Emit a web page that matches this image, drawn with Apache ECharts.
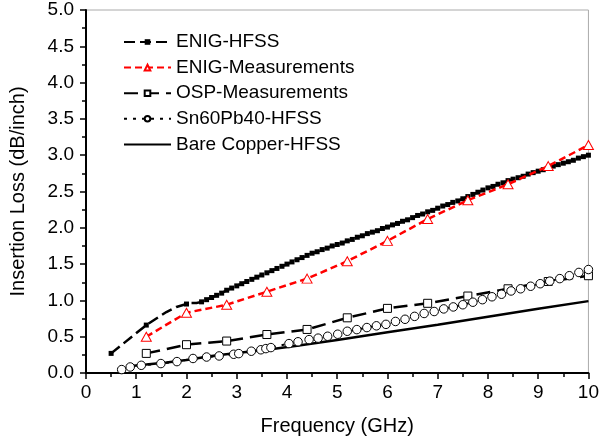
<!DOCTYPE html>
<html>
<head>
<meta charset="utf-8">
<script src="https://cdn.jsdelivr.net/npm/echarts@6/dist/echarts.min.js"></script>
<style>
html,body{margin:0;padding:0;background:#fff;}
#chart{width:602px;height:442px;}
</style>
</head>
<body>
<div id="chart"></div>
<script>
// ---- Data ----
var xTicks = [0,1,2,3,4,5,6,7,8,9,10];
var yTicks = ['0.0','0.5','1.0','1.5','2.0','2.5','3.0','3.5','4.0','4.5','5.0'];
var seriesNames = ['ENIG-HFSS','ENIG-Measurements','OSP-Measurements','Sn60Pb40-HFSS','Bare Copper-HFSS'];

// ENIG-HFSS
var enigHfssFreq = [0.5,1.2,1.6,1.8,2.0,2.1,2.2,
  2.3,2.4,2.5,2.6,2.7,2.8,2.9,3.0,3.1,3.2,3.3,3.4,3.5,3.6,3.7,3.8,3.9,4.0,
  4.1,4.2,4.3,4.4,4.5,4.6,4.7,4.8,4.9,5.0,5.1,5.2,5.3,5.4,5.5,5.6,5.7,5.8,5.9,6.0,
  6.1,6.2,6.3,6.4,6.5,6.6,6.7,6.8,6.9,7.0,7.1,7.2,7.3,7.4,7.5,7.6,7.7,7.8,7.9,8.0,
  8.1,8.2,8.3,8.4,8.5,8.6,8.7,8.8,8.9,9.0,9.1,9.2,9.3,9.4,9.5,9.6,9.7,9.8,9.9,10.0];
var enigHfssLoss = [0.27,0.66,0.84,0.91,0.95,0.965,0.965,
  0.98,1.01,1.04,1.07,1.10,1.14,1.17,1.20,1.23,1.26,1.29,1.32,1.35,1.38,1.41,1.44,1.47,1.50,
  1.53,1.56,1.59,1.62,1.65,1.67,1.70,1.72,1.75,1.77,1.79,1.82,1.84,1.87,1.89,1.92,1.94,1.96,1.99,2.01,
  2.04,2.06,2.09,2.11,2.14,2.17,2.19,2.22,2.24,2.27,2.30,2.32,2.35,2.37,2.40,2.43,2.46,2.49,2.52,2.55,
  2.57,2.60,2.62,2.65,2.67,2.69,2.71,2.74,2.76,2.78,2.80,2.82,2.85,2.87,2.89,2.91,2.93,2.96,2.98,3.00];
var enigHfssUnmarked = [1.6,1.8,2.1,2.2];

// ENIG-Measurements
var enigMeasFreq = [1.2,2.0,2.8,3.6,4.4,5.2,6.0,6.8,7.6,8.4,9.2,10.0];
var enigMeasLoss = [0.50,0.83,0.94,1.12,1.30,1.54,1.82,2.12,2.38,2.60,2.85,3.14];

// OSP-Measurements
var ospFreq = [1.2,2.0,2.8,3.6,4.4,5.2,6.0,6.8,7.6,8.4,9.2,10.0];
var ospLoss = [0.27,0.39,0.44,0.53,0.60,0.76,0.89,0.96,1.06,1.16,1.26,1.34];

// Sn60Pb40-HFSS
var snpbFreq = [0.71,0.88,1.10,1.49,1.81,2.13,2.40,2.65,2.94,3.04,3.29,3.48,3.58,3.68,4.04,4.22,
  4.44,4.62,4.81,5.01,5.20,5.39,5.59,5.78,5.97,6.16,6.35,6.54,6.73,6.93,7.12,7.31,7.50,7.70,
  7.89,8.08,8.27,8.46,8.65,8.85,9.04,9.23,9.43,9.62,9.81,10.0];
var snpbLoss = [0.047,0.083,0.106,0.13,0.157,0.20,0.22,0.235,0.258,0.267,0.30,0.32,0.336,0.35,0.405,0.43,
  0.46,0.48,0.506,0.534,0.575,0.598,0.626,0.65,0.67,0.71,0.74,0.78,0.82,0.847,0.883,0.91,0.94,0.975,
  1.01,1.05,1.085,1.13,1.16,1.195,1.23,1.265,1.30,1.34,1.385,1.425];

// Bare Copper-HFSS
var bareFreq = [0.9,1.2,1.6,2.0,2.5,3.0,3.6,4.2,5.0,6.0,7.0,8.0,9.0,10.0];
var bareLoss = [0.095,0.116,0.145,0.18,0.235,0.275,0.32,0.375,0.455,0.56,0.665,0.775,0.885,0.99];

function pairs(f, v){ return f.map(function(x,i){ return [x, v[i]]; }); }

var enigHfssData = enigHfssFreq.map(function(x,i){
  var item = {value:[x, enigHfssLoss[i]]};
  if (enigHfssUnmarked.indexOf(x) >= 0) item.symbol = 'none';
  return item;
});

var FONT = 'Arial, "Liberation Sans", Helvetica, sans-serif';

var chart = echarts.init(document.getElementById('chart'), null, {renderer:'canvas'});
chart.setOption({
  animation: false,
  backgroundColor: '#fff',
  grid: {left:86, right:11, top:10, bottom:69, show:true, borderColor:'#aaaaaa', borderWidth:1, containLabel:false},
  legend: {
    orient:'vertical', left:118, top:26,
    itemWidth:47, itemHeight:7, itemGap:3.6,
    data: [
      {name: seriesNames[0]},
      {name: seriesNames[1]},
      {name: seriesNames[2]},
      {name: seriesNames[3]},
      {name: seriesNames[4], itemStyle:{opacity:0}}
    ],
    textStyle:{fontFamily:FONT, fontSize:19, color:'#000', lineHeight:22}
  },
  xAxis: {
    type:'value', min:0, max:10, interval:1,
    name:'Frequency (GHz)', nameLocation:'middle', nameGap:43,
    nameTextStyle:{fontFamily:FONT, fontSize:20, color:'#000'},
    axisLine:{show:true, onZero:false, lineStyle:{color:'#000', width:2}},
    axisTick:{show:true, inside:false, length:6, lineStyle:{color:'#000', width:1.5}},
    minorTick:{show:true, splitNumber:2, length:4, lineStyle:{color:'#000', width:1.5}},
    splitLine:{show:false},
    axisLabel:{fontFamily:FONT, fontSize:19, color:'#000', margin:10,
      formatter:function(v){ var i = xTicks.indexOf(v); return i>=0 ? String(xTicks[i]) : ''; }}
  },
  yAxis: {
    type:'value', min:0, max:5, interval:0.5,
    name:'Insertion Loss (dB/inch)', nameLocation:'middle', nameGap:58, nameRotate:90,
    nameTextStyle:{fontFamily:FONT, fontSize:20, color:'#000'},
    axisLine:{show:true, onZero:false, lineStyle:{color:'#000', width:2}},
    axisTick:{show:true, inside:false, length:6, lineStyle:{color:'#000', width:1.5}},
    minorTick:{show:true, splitNumber:2, length:4, lineStyle:{color:'#000', width:1.5}},
    splitLine:{show:false},
    axisLabel:{fontFamily:FONT, fontSize:19, color:'#000', margin:12,
      formatter:function(v){ var i = Math.round(v/0.5); return yTicks[i] || ''; }}
  },
  series: [
    {
      name: seriesNames[0], type:'line', data: enigHfssData,
      symbol:'rect', symbolSize:5, showAllSymbol:true,
      lineStyle:{color:'#000', width:2.5, type:[11,5]},
      itemStyle:{color:'#000', borderColor:'#000', borderWidth:0},
      z:3
    },
    {
      name: seriesNames[1], type:'line', data: pairs(enigMeasFreq, enigMeasLoss),
      symbol:'triangle', symbolSize:[10,9], showAllSymbol:true,
      lineStyle:{color:'#ff0000', width:2.5, type:[7,4]},
      itemStyle:{color:'#fff', borderColor:'#ff0000', borderWidth:1},
      z:4
    },
    {
      name: seriesNames[2], type:'line', data: pairs(ospFreq, ospLoss),
      symbol:'rect', symbolSize:8, showAllSymbol:true,
      lineStyle:{color:'#000', width:2.5, type:[14,7]},
      itemStyle:{color:'#fff', borderColor:'#000', borderWidth:1},
      z:4
    },
    {
      name: seriesNames[3], type:'line', data: pairs(snpbFreq, snpbLoss),
      symbol:'circle', symbolSize:8.5, showAllSymbol:true,
      lineStyle:{color:'#000', width:2, type:[3,6]},
      itemStyle:{color:'#fff', borderColor:'#000', borderWidth:1},
      z:5
    },
    {
      name: seriesNames[4], type:'line', data: pairs(bareFreq, bareLoss),
      symbol:'none', smooth:false,
      lineStyle:{color:'#000', width:2.5, type:'solid'},
      itemStyle:{color:'#000'},
      z:3
    }
  ]
});
</script>
</body>
</html>
